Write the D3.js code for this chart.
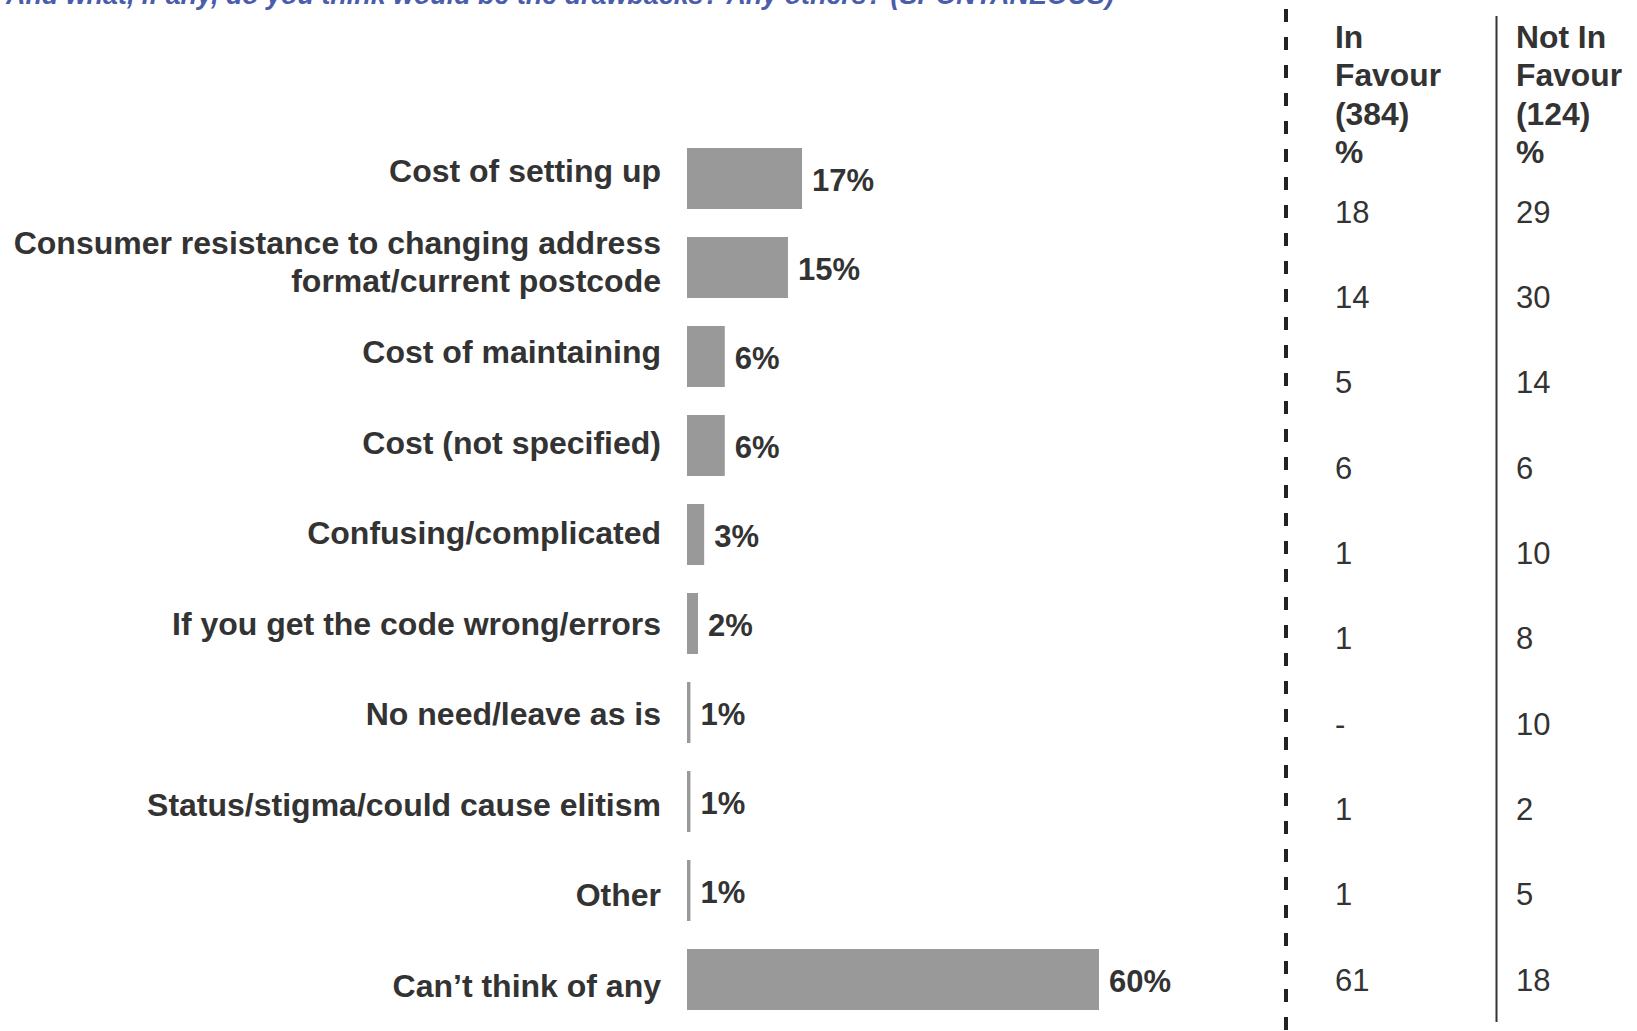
<!DOCTYPE html>
<html>
<head>
<meta charset="utf-8">
<script src="https://cdn.jsdelivr.net/npm/d3@7"></script>
<style>
  html, body { margin: 0; padding: 0; background: #ffffff; }
  svg { display: block; }
  text { font-family: "Liberation Sans", Arial, Helvetica, sans-serif; }
</style>
</head>
<body>
<svg id="chart" width="1637" height="1031"></svg>
<script>
// ---------------- data ----------------
const titleText = "And what, if any, do you think would be the drawbacks? Any others? (SPONTANEOUS)";

const categories = [
  "Cost of setting up",
  "Consumer resistance to changing address\nformat/current postcode",
  "Cost of maintaining",
  "Cost (not specified)",
  "Confusing/complicated",
  "If you get the code wrong/errors",
  "No need/leave as is",
  "Status/stigma/could cause elitism",
  "Other",
  "Can\u2019t think of any"
];

// total % (bar lengths; labels show rounded values)
const totalValues = [16.75, 14.7, 5.5, 5.5, 2.5, 1.6, 0.5, 0.5, 0.5, 60];

const inFavourHeader = ["In", "Favour", "(384)", "%"];
const notInFavourHeader = ["Not In", "Favour", "(124)", "%"];

const inFavourValues = ["18", "14", "5", "6", "1", "1", "-", "1", "1", "61"];
const notInFavourValues = ["29", "30", "14", "6", "10", "8", "10", "2", "5", "18"];

// ---------------- drawing ----------------
const svg = d3.select("#chart");
svg.append("rect").attr("width", 1637).attr("height", 1031).attr("fill", "#ffffff");

const textColor = "#333333";
const barColor = "#999999";

// title (partially cut at top edge, as in the reference)
svg.append("text")
  .attr("x", 6)
  .attr("y", 4)
  .attr("font-size", 27)
  .attr("font-weight", "bold")
  .attr("font-style", "italic")
  .attr("fill", "#4a5dab")
  .attr("textLength", 1108)
  .attr("lengthAdjust", "spacingAndGlyphs")
  .text(titleText);

// scales
const x = d3.scaleLinear().domain([0, 60]).range([687, 1099]);

const yBar = d3.scaleBand()
  .domain(categories)
  .range([134, 1024])
  .paddingInner(28 / 89)
  .paddingOuter(14 / 89);

const yLabel = d3.scalePoint()
  .domain(categories)
  .range([170.7, 985.2]);

const yRow = d3.scalePoint()
  .domain(categories)
  .range([211.5, 979.5]);

const rows = categories.map((c, i) => ({
  cat: c,
  value: totalValues[i],
  inF: inFavourValues[i],
  notF: notInFavourValues[i]
}));

// bars
svg.append("g").selectAll("rect")
  .data(rows)
  .join("rect")
  .attr("x", x(0))
  .attr("y", d => yBar(d.cat))
  .attr("width", d => x(d.value) - x(0))
  .attr("height", yBar.bandwidth())
  .attr("fill", barColor);

// value labels
svg.append("g").selectAll("text")
  .data(rows)
  .join("text")
  .attr("x", d => x(d.value) + 10)
  .attr("y", d => yBar(d.cat) + yBar.bandwidth() / 2 + 12)
  .attr("font-size", 31)
  .attr("font-weight", "bold")
  .attr("fill", textColor)
  .text(d => Math.round(d.value) + "%");

// category labels
const lineH = 38;
const labelG = svg.append("g");
rows.forEach(d => {
  const lines = d.cat.split("\n");
  const cy = yLabel(d.cat);
  const t = labelG.append("text")
    .attr("text-anchor", "end")
    .attr("font-size", 32)
    .attr("font-weight", "bold")
    .attr("fill", textColor);
  lines.forEach((ln, j) => {
    t.append("tspan")
      .attr("x", 661)
      .attr("y", cy + 11.5 + (j - (lines.length - 1) / 2) * lineH)
      .text(ln);
  });
});

// separators
svg.append("line")
  .attr("x1", 1286).attr("x2", 1286)
  .attr("y1", 0).attr("y2", 1031)
  .attr("stroke", "#222222")
  .attr("stroke-width", 4)
  .attr("stroke-dasharray", "13,15")
  .attr("stroke-dashoffset", 19);

svg.append("line")
  .attr("x1", 1496.5).attr("x2", 1496.5)
  .attr("y1", 16).attr("y2", 1022)
  .attr("stroke", "#333333")
  .attr("stroke-width", 2);

// table headers
const colX = [1335, 1516];
[inFavourHeader, notInFavourHeader].forEach((hdr, k) => {
  svg.append("g").selectAll("text")
    .data(hdr)
    .join("text")
    .attr("x", colX[k])
    .attr("y", (d, i) => 47.5 + i * 38.6)
    .attr("font-size", 31.8)
    .attr("font-weight", "bold")
    .attr("fill", textColor)
    .text(d => d);
});

// table values
[["inF", colX[0]], ["notF", colX[1]]].forEach(([key, cx]) => {
  svg.append("g").selectAll("text")
    .data(rows)
    .join("text")
    .attr("x", cx)
    .attr("y", d => yRow(d.cat) + 11)
    .attr("font-size", 31)
    .attr("fill", textColor)
    .text(d => d[key]);
});
</script>
</body>
</html>
